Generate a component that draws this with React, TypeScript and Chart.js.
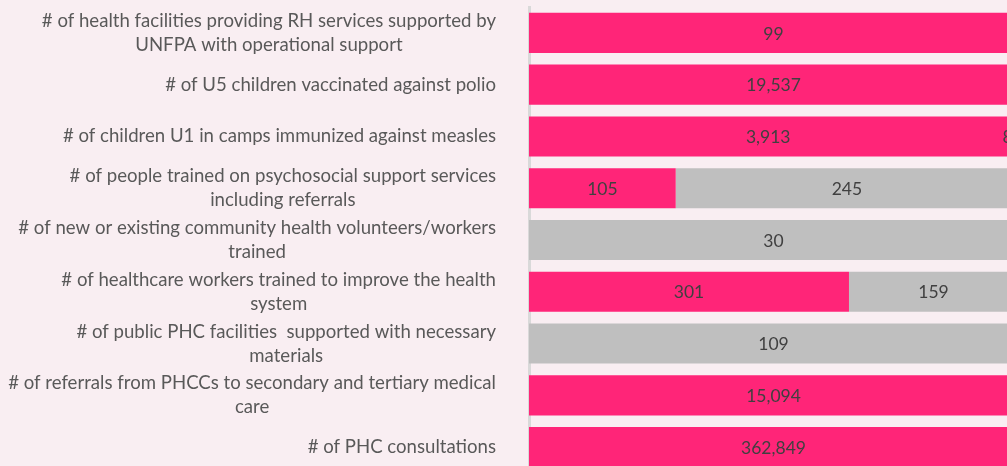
import React, { useEffect, useRef } from "react";
import { Chart, registerables } from "chart.js";

Chart.register(...registerables);

const categories: string[][] = [
  ["# of health facilities providing RH services supported by", "UNFPA with operational support"],
  ["# of U5 children vaccinated against polio"],
  ["# of children U1 in camps immunized against measles"],
  ["# of people trained on psychosocial support services", "including referrals"],
  ["# of new or existing community health volunteers/workers", "trained"],
  ["# of healthcare workers trained to improve the health", "system"],
  ["# of public PHC facilities  supported with necessary", "materials"],
  ["# of referrals from PHCCs to secondary and tertiary medical", "care"],
  ["# of PHC consultations"],
];

const achieved: number[] = [99, 19537, 3913, 105, 0, 301, 0, 15094, 362849];
const remaining: number[] = [0, 0, 87, 245, 30, 159, 109, 0, 0];

const PINK = "#FF2578";
const GRAY = "#BFBFBF";
const BG = "#F9EEF2";
const FONT = "Lato, 'Open Sans', sans-serif";

const pct = (a: number, b: number) => (a + b === 0 ? 0 : (a / (a + b)) * 100);
const achievedPct = achieved.map((a, i) => pct(a, remaining[i]));
const remainingPct = remaining.map((b, i) => pct(b, achieved[i]));

const fmt = (v: number) => v.toLocaleString("en-US");

export default function App() {
  const ref = useRef<HTMLCanvasElement | null>(null);

  useEffect(() => {
    if (!ref.current) return;
    const labelPlugin = {
      id: "customLabels",
      afterDatasetsDraw(chart: any) {
        const ctx = chart.ctx;
        const yScale = chart.scales.y;
        ctx.save();
        // category labels
        ctx.font = `18.6px ${FONT}`;
        ctx.fillStyle = "#595959";
        ctx.textAlign = "center";
        ctx.textBaseline = "middle";
        const lh = 24;
        const blockRight = 496;
        categories.forEach((lines, i) => {
          const y = yScale.getPixelForTick(i);
          const maxW = Math.max(...lines.map((l) => ctx.measureText(l).width));
          const cx = blockRight - maxW / 2;
          lines.forEach((l, j) => {
            ctx.fillText(l, cx, y - ((lines.length - 1) * lh) / 2 + j * lh);
          });
        });
        // value labels
        ctx.font = `17.5px ${FONT}`;
        ctx.fillStyle = "#404040";
        const raw = [achieved, remaining];
        chart.data.datasets.forEach((ds: any, di: number) => {
          const meta = chart.getDatasetMeta(di);
          meta.data.forEach((bar: any, i: number) => {
            const v = raw[di][i];
            if (!v) return;
            const x = (bar.x + bar.base) / 2;
            ctx.fillText(fmt(v), x, bar.y + 1);
          });
        });
        ctx.restore();
      },
    };

    const chart = new Chart(ref.current, {
      type: "bar",
      data: {
        labels: categories.map((c) => c.join(" ")),
        datasets: [
          {
            label: "Achieved",
            data: achievedPct,
            backgroundColor: PINK,
            borderWidth: 0,
            categoryPercentage: 1,
            barPercentage: 0.775,
          },
          {
            label: "Remaining",
            data: remainingPct,
            backgroundColor: GRAY,
            borderWidth: 0,
            categoryPercentage: 1,
            barPercentage: 0.775,
          },
        ],
      },
      options: {
        indexAxis: "y",
        animation: false,
        responsive: true,
        maintainAspectRatio: false,
        layout: { padding: { top: 7, bottom: 0, left: 0, right: 0 } },
        plugins: {
          legend: { display: false },
          tooltip: { enabled: false },
        },
        scales: {
          x: {
            stacked: true,
            min: 0,
            max: 100,
            display: false,
          },
          y: {
            stacked: true,
            ticks: { display: false },
            grid: { display: false },
            border: { display: true, color: "#D9D9D9", width: 3 },
            afterFit(scale: any) {
              scale.width = 529;
            },
          },
        },
      },
      plugins: [labelPlugin],
    });
    return () => chart.destroy();
  }, []);

  return (
    <div
      style={{
        position: "absolute",
        left: 0,
        top: 0,
        width: 1007,
        height: 466,
        overflow: "hidden",
        background: BG,
      }}
    >
      <div style={{ position: "relative", width: 1018, height: 473 }}>
        <canvas ref={ref} />
      </div>
    </div>
  );
}
